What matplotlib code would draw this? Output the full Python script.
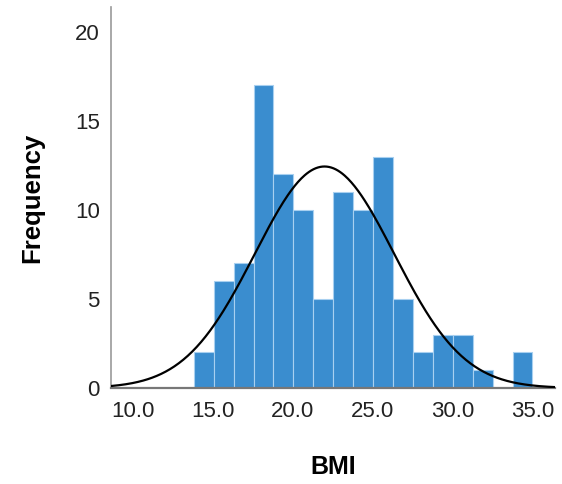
import matplotlib.pyplot as plt
import numpy as np

# Histogramme BMI (style SPSS) avec courbe normale

counts = [2, 6, 7, 17, 12, 10, 5, 11, 10, 13, 5, 2, 3, 3, 1, 0, 2]
bin_start = 13.83
bin_width = 1.245
bmi_mean = 22.0
bmi_sd = 4.35
x_ticks = [10, 15, 20, 25, 30, 35]
y_ticks = [0, 5, 10, 15, 20]

plt.rcParams['font.family'] = ['Liberation Sans', 'DejaVu Sans']

fig = plt.figure(figsize=(5.62, 4.84), dpi=100)
ax = fig.add_axes([0.1975, 0.1983, 0.79, 0.787])

edges = bin_start + bin_width * np.arange(len(counts))
ax.bar(edges, counts, width=bin_width, align='edge',
       color='#3a8dcf', edgecolor='#a8d0f0', linewidth=0.8, zorder=2)

n = sum(counts)
xmin, xmax = 8.66, 36.4
t = np.linspace(xmin, xmax, 400)
curve = n * bin_width / (bmi_sd * np.sqrt(2 * np.pi)) * np.exp(-0.5 * ((t - bmi_mean) / bmi_sd) ** 2)
ax.plot(t, curve, color='black', linewidth=1.6, zorder=3)

ax.set_xlim(xmin, xmax)
ax.set_ylim(0, 21.4)
ax.set_xticks(x_ticks)
ax.set_xticklabels([f"{v:.1f}" for v in x_ticks])
ax.set_yticks(y_ticks)

for s in ['top', 'right']:
    ax.spines[s].set_visible(False)
ax.spines['left'].set_color('#999999')
ax.spines['bottom'].set_color('#777777')
ax.spines['left'].set_linewidth(1.2)
ax.spines['bottom'].set_linewidth(1.6)
ax.tick_params(length=0, labelsize=16, colors='#222222', pad=9)
ax.tick_params(axis='y', pad=8)

ax.set_xlabel('BMI', fontsize=18, fontweight='bold', labelpad=24)
ax.set_ylabel('Frequency', fontsize=18.5, fontweight='bold', labelpad=22)

fig.savefig('out.png', dpi=100)
